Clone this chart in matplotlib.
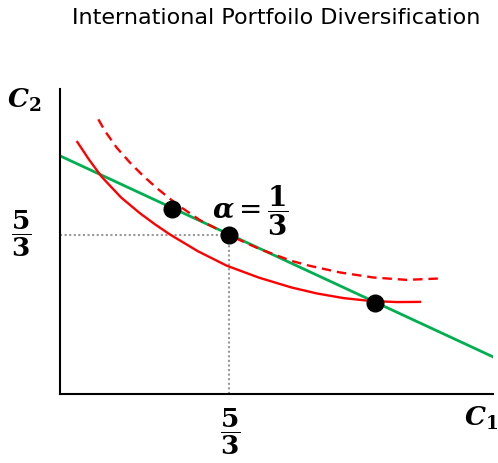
import numpy as np
import matplotlib
matplotlib.use("Agg")
import matplotlib.pyplot as plt

plt.rcParams['mathtext.fontset'] = 'dejavuserif'

# budget line (green)
budget_x = [0.0, 4.27]
budget_y = [2.50, 0.39]

# indifference curve through the endowment (solid red)
ic_low_x = [0.171, 0.286, 0.411, 0.602, 0.789, 0.937, 1.085, 1.361, 1.644,
            1.963, 2.283, 2.535, 2.794, 3.057, 3.321, 3.550]
ic_low_y = [2.645, 2.461, 2.280, 2.063, 1.897, 1.781, 1.674, 1.498, 1.347,
            1.221, 1.118, 1.055, 1.007, 0.977, 0.965, 0.967]

# higher indifference curve tangent at the diversified point (dashed red)
ic_high_x = [0.378, 0.444, 0.559, 0.690, 0.822, 0.969, 1.151, 1.381, 1.667,
             1.972, 2.283, 2.465, 2.761, 3.090, 3.419, 3.748]
ic_high_y = [2.883, 2.760, 2.586, 2.429, 2.288, 2.149, 1.992, 1.824, 1.667,
             1.520, 1.397, 1.345, 1.276, 1.223, 1.198, 1.213]

# marked points on the budget line
pts_x = [1.10, 5/3, 3.11]
pts_y = [1.94, 5/3, 0.96]

opt_x, opt_y = 5/3, 5/3

fig = plt.figure(figsize=(4.98, 4.64), dpi=100)
ax = fig.add_axes([0.1205, 0.1487, 0.8695, 0.657])

ax.plot([0, opt_x], [opt_y, opt_y], color='#999999', ls=(0, (1, 1.2)), lw=1.5)
ax.plot([opt_x, opt_x], [0, opt_y], color='#999999', ls=(0, (1, 1.2)), lw=1.5)

ax.plot(budget_x, budget_y, color='#00b050', lw=2.0)
ax.plot(ic_low_x, ic_low_y, color='red', lw=1.7, solid_joinstyle='round')
ax.plot(ic_high_x, ic_high_y, color='red', lw=1.7, ls=(0, (4, 2.5)))
ax.plot(pts_x, pts_y, 'o', color='black', ms=12)

ax.text(1.874, 1.94, r'$\mathbfit{\alpha} = \dfrac{\mathbf{1}}{\mathbf{3}}$',
        fontsize=20, ha='center', va='center')

ax.set_xlim(0, 4.27)
ax.set_ylim(0, 3.2)
for s in ['top', 'right']:
    ax.spines[s].set_visible(False)
for s in ['left', 'bottom']:
    ax.spines[s].set_linewidth(1.5)
ax.set_xticks([])
ax.set_yticks([])

fig.text(24/498, 1 - 100/464, r'$\mathbfit{C}_\mathbf{2}$', fontsize=19, ha='center', va='center')
fig.text(481/498, 1 - 418/464, r'$\mathbfit{C}_\mathbf{1}$', fontsize=19, ha='center', va='center')
fig.text(21/498, 1 - 234/464, r'$\dfrac{\mathbf{5}}{\mathbf{3}}$', fontsize=19, ha='center', va='center')
fig.text(230/498, 1 - 432/464, r'$\dfrac{\mathbf{5}}{\mathbf{3}}$', fontsize=19, ha='center', va='center')

fig.text(276/498, 1 - 18/464, 'International Portfoilo Diversification',
         fontsize=16, ha='center', va='center')

fig.savefig('out.png', dpi=100)
